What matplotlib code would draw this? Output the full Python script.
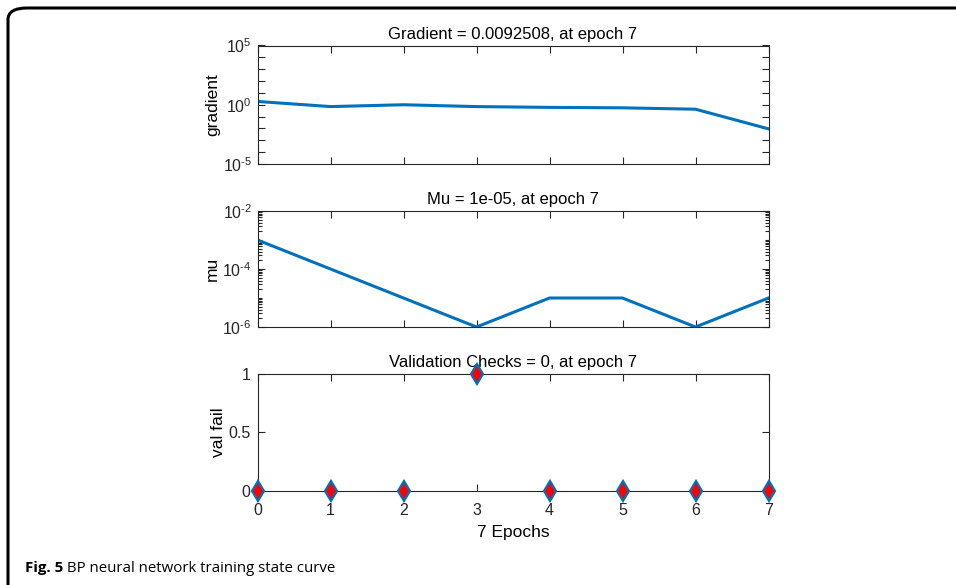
import matplotlib
matplotlib.use("Agg")
import matplotlib.pyplot as plt
from matplotlib.patches import FancyBboxPatch
from matplotlib.ticker import LogLocator, FixedLocator, NullFormatter, FuncFormatter
import numpy as np

epochs = [0, 1, 2, 3, 4, 5, 6, 7]
gradient = [1.9, 0.7, 1.0, 0.7, 0.6, 0.55, 0.42, 0.0092508]
mu = [1e-3, 1e-4, 1e-5, 1e-6, 1e-5, 1e-5, 1e-6, 1e-5]
val_fail = [0, 0, 0, 1, 0, 0, 0, 0]

titles = ["Gradient = 0.0092508, at epoch 7", "Mu = 1e-05, at epoch 7",
          "Validation Checks = 0, at epoch 7"]
ylabels = ["gradient", "mu", "val fail"]
xlabel = "7 Epochs"
caption_bold = "Fig. 5"
caption_rest = " BP neural network training state curve"

blue = "#0072BD"
plt.rcParams['font.family'] = ['Liberation Sans', 'DejaVu Sans']
plt.rcParams['mathtext.fontset'] = 'custom'
plt.rcParams['mathtext.rm'] = 'Liberation Sans'
plt.rcParams['mathtext.it'] = 'Liberation Sans'
plt.rcParams['axes.unicode_minus'] = False

W, H = 956, 585
fig = plt.figure(figsize=(W / 100, H / 100), dpi=100)

def pos(l, t, r, b):
    return [l / W, 1 - b / H, (r - l) / W, (b - t) / H]

ax1 = fig.add_axes(pos(257.5, 45.5, 768.5, 164))
ax2 = fig.add_axes(pos(257.5, 211, 768.5, 327))
ax3 = fig.add_axes(pos(257.5, 373.5, 768.5, 491))

tfs, lfs, kfs = 12, 12.5, 11.5
dark = '#262626'

def logfmt(v, p):
    e = int(round(np.log10(v)))
    if e < 0:
        return r'$\mathregular{10^{\text{-}%d}}$' % (-e)
    return r'$\mathregular{10^{%d}}$' % e

for ax, t, yl in zip([ax1, ax2, ax3], titles, ylabels):
    ax.set_xlim(0, 7)
    ax.set_title(t, fontsize=tfs, pad=5)
    ax.set_ylabel(yl, fontsize=lfs, labelpad=2)
    ax.tick_params(direction='in', top=True, right=True, labelsize=kfs,
                   width=0.8, length=5, colors=dark, labelcolor=dark, pad=4)
    ax.tick_params(which='minor', direction='in', top=True, right=True,
                   length=3, width=0.8, colors=dark)
    ax.xaxis.set_major_locator(FixedLocator(epochs))
    for s in ax.spines.values():
        s.set_linewidth(0.8)
        s.set_color(dark)

ax1.plot(epochs, gradient, color=blue, lw=2.2)
ax1.set_yscale('log')
ax1.set_ylim(1e-5, 1e5)
ax1.yaxis.set_major_locator(FixedLocator([1e-5, 1e0, 1e5]))
ax1.yaxis.set_major_formatter(FuncFormatter(logfmt))
ax1.yaxis.set_minor_locator(FixedLocator([10.0 ** k for k in range(-4, 5) if k != 0]))
ax1.yaxis.set_minor_formatter(NullFormatter())
ax1.tick_params(which='minor', length=5)
ax1.set_xticklabels([])

ax2.plot(epochs, mu, color=blue, lw=2.2)
ax2.set_yscale('log')
ax2.set_ylim(1e-6, 1e-2)
ax2.yaxis.set_major_locator(FixedLocator([1e-6, 1e-4, 1e-2]))
ax2.yaxis.set_major_formatter(FuncFormatter(logfmt))
ax2.yaxis.set_minor_locator(LogLocator(base=10, subs=np.arange(1, 10) * 1.0, numticks=20))
ax2.yaxis.set_minor_formatter(NullFormatter())
ax2.set_xticklabels([])

ax3.plot(epochs, val_fail, linestyle='none', marker='d', markersize=10,
         mfc='red', mec=blue, mew=1.6, clip_on=False, zorder=5)
ax3.set_ylim(0, 1)
ax3.set_yticks([0, 0.5, 1])
ax3.set_yticklabels(["0", "0.5", "1"])
ax3.set_xticklabels([str(e) for e in epochs])
ax3.tick_params(axis='x', pad=8.5)
ax3.tick_params(axis='y', pad=5)
ax3.set_xlabel(xlabel, fontsize=lfs, labelpad=5)

# border box
box = FancyBboxPatch((8 / W, -0.2), 1.2, (1 - 8 / H) + 0.2,
                     boxstyle="round,pad=0,rounding_size=0.02",
                     transform=fig.transFigure, fill=False, lw=2.2,
                     edgecolor='black', clip_on=False)
fig.patches.append(box)

t1 = fig.text(25 / W, 1 - 568 / H, caption_bold, fontsize=10.8, fontweight='bold',
              family='Open Sans', va='center', ha='left')
fig.canvas.draw()
bb = t1.get_window_extent()
fig.text(bb.x1 / W, 1 - 568 / H, caption_rest, fontsize=10.8, family='Open Sans',
         va='center', ha='left')

fig.savefig("out.png", dpi=100)
